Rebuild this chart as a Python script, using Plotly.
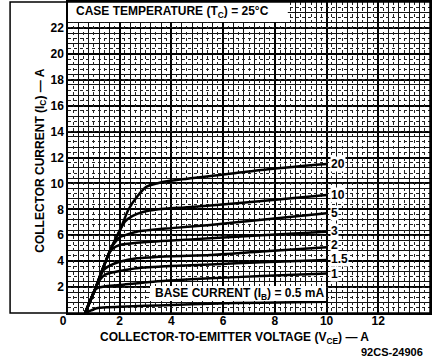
import plotly.graph_objects as go

# base current curves (mA)
ib_labels = ["0.5", "1", "1.5", "2", "3", "5", "10", "20"]

vce_05 = [0.66, 0.9, 1.11, 1.5, 2.0, 3.0, 4.0, 5.5, 7.5, 10.0]
ic_05 = [0, 0.2, 0.36, 0.44, 0.49, 0.55, 0.62, 0.72, 0.8, 0.87]

vce_1 = [0.66, 0.85, 1.04, 1.17, 1.4, 2.0, 3.3, 5.5, 7.5, 10.0]
ic_1 = [0, 0.9, 1.75, 1.95, 2.05, 2.16, 2.42, 2.68, 2.85, 3.05]

vce_15 = [0.66, 1.04, 1.25, 1.43, 1.7, 2.0, 2.66, 4.0, 5.5, 7.5, 10.0]
ic_15 = [0, 1.8, 2.6, 2.95, 3.12, 3.24, 3.45, 3.62, 3.75, 3.92, 4.09]

vce_2 = [0.66, 1.04, 1.37, 1.56, 1.8, 2.0, 2.66, 4.0, 5.5, 7.5, 10.0]
ic_2 = [0, 1.8, 3.3, 3.6, 3.82, 3.96, 4.22, 4.38, 4.47, 4.75, 5.07]

vce_3 = [0.66, 1.04, 1.37, 1.6, 1.75, 2.0, 2.66, 4.0, 5.5, 7.5, 10.0]
ic_3 = [0, 1.8, 3.55, 4.65, 5.0, 5.25, 5.43, 5.6, 5.76, 6.0, 6.27]

vce_5 = [0.66, 1.04, 1.37, 1.69, 1.88, 2.0, 2.66, 4.0, 5.5, 7.5, 10.0]
ic_5 = [0, 1.8, 3.55, 5.1, 5.6, 5.85, 6.27, 6.55, 6.8, 7.2, 7.7]

vce_10 = [0.66, 1.04, 1.37, 1.69, 2.01, 2.2, 2.5, 2.9, 3.5, 4.5, 5.5, 7.5, 10.0]
ic_10 = [0, 1.8, 3.55, 5.1, 6.4, 7.05, 7.5, 7.8, 8.0, 8.15, 8.3, 8.65, 9.1]

vce_20 = [0.66, 0.85, 1.04, 1.37, 1.69, 2.01, 2.33, 2.66, 3.04, 3.43, 3.94, 5.2, 6.5, 8.0, 10.0]
ic_20 = [0, 0.9, 1.8, 3.55, 5.1, 6.4, 7.95, 8.95, 9.75, 10.0, 10.2, 10.5, 10.8, 11.15, 11.5]

# where the right-hand curve labels sit (1 .. 20 mA)
label_ic = [3.0, 4.15, 5.25, 6.35, 7.7, 9.1, 11.5]

x_ticks = [0, 2, 4, 6, 8, 10, 12]
y_ticks = [2, 4, 6, 8, 10, 12, 14, 16, 18, 20, 22]

curves = [(vce_05, ic_05), (vce_1, ic_1), (vce_15, ic_15), (vce_2, ic_2),
          (vce_3, ic_3), (vce_5, ic_5), (vce_10, ic_10), (vce_20, ic_20)]

FONT = "Liberation Sans"

fig = go.Figure()
for (xs, ys), lab in zip(curves, ib_labels):
    fig.add_trace(go.Scatter(x=xs, y=ys, mode='lines', name=lab,
                             line=dict(color='black', width=2.5, shape='spline', smoothing=0.6),
                             showlegend=False, hoverinfo='skip'))

# empty trace so the overlaid (dotted grid) axes get drawn
fig.add_trace(go.Scatter(x=[None], y=[None], xaxis='x2', yaxis='y2', showlegend=False))

# curve labels at the right ends
for ly, lab in zip(label_ic, ib_labels[1:]):
    fig.add_annotation(x=10.15, y=ly, text=lab, showarrow=False, xanchor='left',
                       bgcolor='white', borderpad=0,
                       font=dict(family=FONT, size=12, color='black', weight='bold'))

fig.add_annotation(x=3.3, y=1.5, text="BASE CURRENT (I<sub>B</sub>) = 0.5 mA", showarrow=False,
                   xanchor='left', font=dict(family=FONT, size=12, color='black', weight='bold'))
fig.add_annotation(x=0.25, y=23.25, text="CASE TEMPERATURE (T<sub>C</sub>) = 25°C", showarrow=False,
                   xanchor='left', font=dict(family=FONT, size=12, color='black', weight='bold'))

fig.add_annotation(xref='paper', yref='paper', x=0.459, y=-0.08, xanchor='center', yanchor='middle',
                   text="COLLECTOR-TO-EMITTER VOLTAGE (V<sub>CE</sub>) — A", showarrow=False,
                   font=dict(family=FONT, size=12, color='black', weight='bold'))
fig.add_annotation(xref='paper', yref='paper', x=-0.077, y=0.49, textangle=-90,
                   xanchor='center', yanchor='middle',
                   text="COLLECTOR CURRENT (I<sub>C</sub>) — A", showarrow=False,
                   font=dict(family=FONT, size=12, color='black', weight='bold'))
fig.add_annotation(xref='paper', yref='paper', x=0.986, y=-0.125, xanchor='right', yanchor='middle',
                   text="92CS-24906", showarrow=False,
                   font=dict(family=FONT, size=11, color='black', weight='bold'))

# white boxes behind the two in-plot captions, and the outer frame
fig.add_shape(type='rect', x0=0, x1=8.5, y0=22.45, y1=24, fillcolor='white',
              line=dict(width=0), layer='above')
fig.add_shape(type='rect', x0=3.17, x1=9.98, y0=0.93, y1=2.08, fillcolor='white',
              line=dict(width=0), layer='above')
fig.add_shape(type='rect', xref='paper', yref='paper', x0=-0.16, x1=1.0, y0=0, y1=1,
              line=dict(color='black', width=1.5), layer='above')

fig.update_layout(
    width=432, height=360,
    margin=dict(l=68, r=2, t=2, b=47, autoexpand=False),
    paper_bgcolor='white', plot_bgcolor='white',
    xaxis=dict(range=[0, 14], tickvals=x_ticks, automargin=False,
               ticktext=["0\u00a0\u00a0\u00a0"] + [str(v) for v in x_ticks[1:]],
               showgrid=True, gridcolor='black', gridwidth=1.5,
               minor=dict(dtick=0.4, tick0=0, showgrid=True, gridcolor='#111', gridwidth=1),
               zeroline=False, showline=True, linecolor='black', linewidth=1.5, mirror=True,
               ticks='', ticklen=0, ticklabelstandoff=-4,
               tickfont=dict(family=FONT, size=12, color='black', weight='bold')),
    yaxis=dict(range=[0, 24], tickvals=y_ticks, automargin=False,
               showgrid=True, gridcolor='black', gridwidth=1.5,
               minor=dict(dtick=0.8, tick0=0, showgrid=True, gridcolor='#111', gridwidth=1),
               zeroline=False, showline=True, linecolor='black', linewidth=1.5, mirror=True,
               ticks='', ticklen=0,
               tickfont=dict(family=FONT, size=12, color='black', weight='bold')),
    xaxis2=dict(overlaying='x', range=[0, 14], tick0=0.2, dtick=0.4, showgrid=True,
                griddash='dot', gridcolor='#222', gridwidth=1, showticklabels=False,
                zeroline=False, ticks='', automargin=False),
    yaxis2=dict(overlaying='y', range=[0, 24], tick0=0.4, dtick=0.8, showgrid=True,
                griddash='dot', gridcolor='#222', gridwidth=1, showticklabels=False,
                zeroline=False, ticks='', automargin=False),
)

# drop the browser's default 8px body margin so the figure sits at the window corner
fig.write_html("out.html", config={'displayModeBar': False},
               post_script="document.body.style.margin='0';")
